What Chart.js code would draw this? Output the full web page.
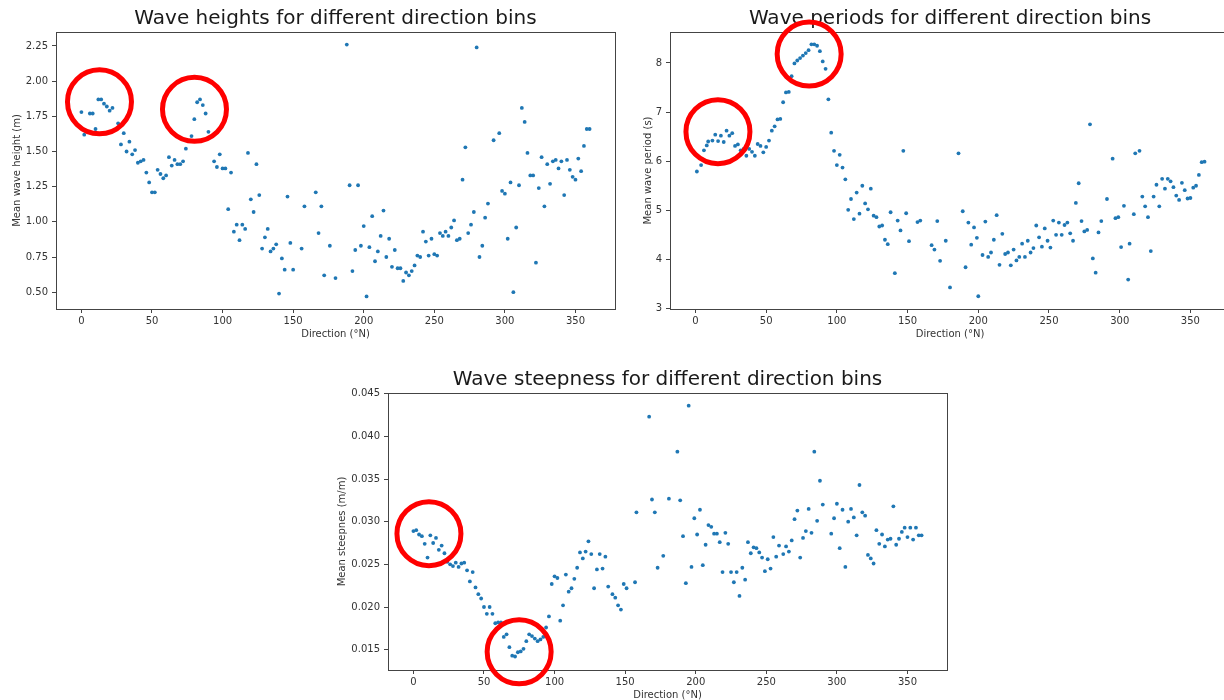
<!DOCTYPE html>
<html>
<head>
<meta charset="utf-8">
<script src="https://cdn.jsdelivr.net/npm/chart.js@4.4.1/dist/chart.umd.min.js"></script>
<style>
  html, body { margin: 0; padding: 0; background: #fff; overflow: hidden; width: 1224px; height: 700px; }
  canvas { position: absolute; }
</style>
</head>
<body>
<canvas id="heights" width="620" height="345" style="left:0px;top:0px"></canvas>
<canvas id="periods" width="620" height="345" style="left:620px;top:0px"></canvas>
<canvas id="steepness" width="625" height="345" style="left:330px;top:361px"></canvas>
<script>
// ---- Bin-averaged wave statistics per mean direction (°N) ----
const heightDir = [0,2,6,8,10,12,14,16,18,20,22,26,28,30,32,34,36,38,40,42,44,46,48,50,52,54,56,58,60,62,64,66,68,70,72,74,78,80,82,84,86,88,90,94,96,98,100,102,104,106,108,110,112,114,116,118,120,122,124,126,128,130,132,134,136,138,140,142,144,146,148,150,156,158,166,168,170,172,176,180,188,190,192,194,196,198,200,202,204,206,208,210,212,214,216,218,220,222,224,226,228,230,232,234,236,238,240,242,244,246,248,250,252,254,256,258,260,262,264,266,268,270,272,274,276,278,280,282,284,286,288,292,296,298,300,302,304,306,308,310,312,314,316,318,320,322,324,326,328,330,332,334,336,338,340,342,344,346,348,350,352,354,356,358,360];
const heightVal = [1.78,1.62,1.77,1.77,1.66,1.87,1.87,1.84,1.82,1.79,1.81,1.70,1.55,1.63,1.50,1.57,1.48,1.51,1.42,1.43,1.44,1.35,1.28,1.21,1.21,1.37,1.34,1.31,1.33,1.46,1.40,1.44,1.41,1.41,1.43,1.52,1.61,1.73,1.85,1.87,1.83,1.77,1.64,1.43,1.39,1.48,1.38,1.38,1.09,1.35,0.93,0.98,0.87,0.98,0.95,1.49,1.16,1.07,1.41,1.19,0.81,0.89,0.95,0.79,0.81,0.84,0.49,0.74,0.66,1.18,0.85,0.66,0.81,1.11,1.21,0.92,1.11,0.62,0.83,0.60,2.26,1.26,0.65,0.80,1.26,0.83,0.97,0.47,0.82,1.04,0.72,0.79,0.90,1.08,0.75,0.88,0.68,0.80,0.67,0.67,0.58,0.64,0.62,0.65,0.69,0.76,0.75,0.93,0.86,0.76,0.88,0.77,0.76,0.92,0.90,0.93,0.90,0.96,1.01,0.87,0.88,1.30,1.53,0.92,0.98,1.07,2.24,0.75,0.83,1.03,1.13,1.58,1.63,1.22,1.20,0.88,1.28,0.50,0.96,1.26,1.81,1.71,1.49,1.33,1.33,0.71,1.24,1.46,1.11,1.41,1.27,1.43,1.44,1.38,1.43,1.19,1.44,1.37,1.32,1.30,1.45,1.36,1.54,1.66,1.66];

const periodDir = [1,4,6,8,9,12,14,16,18,20,22,24,26,28,30,32,34,36,38,40,42,44,46,48,50,52,54,56,58,60,62,64,66,68,70,72,74,76,78,80,82,84,86,88,90,92,94,96,98,100,102,104,106,108,110,112,114,116,118,120,122,124,126,128,130,132,134,136,138,141,143,145,147,149,151,157,159,167,169,171,173,177,180,186,189,191,193,195,197,199,200,203,205,207,209,211,213,215,217,219,221,223,225,227,229,231,233,235,237,239,241,243,245,247,249,251,253,255,257,259,261,263,265,267,269,271,273,275,277,279,281,283,285,287,291,295,297,299,301,303,306,307,310,311,314,316,318,320,322,324,326,328,330,332,334,336,338,340,342,344,346,348,350,352,354,356,358,360];
const periodVal = [5.79,5.92,6.22,6.32,6.40,6.42,6.54,6.41,6.52,6.39,6.62,6.52,6.57,6.31,6.34,6.22,6.25,6.11,6.25,6.19,6.11,6.35,6.31,6.18,6.29,6.42,6.62,6.71,6.85,6.86,7.20,7.40,7.41,7.73,7.99,8.05,8.10,8.15,8.20,8.26,8.38,8.38,8.35,8.24,8.03,7.88,7.26,6.58,6.21,5.92,6.13,5.87,5.63,5.01,5.23,4.82,5.36,4.93,5.50,5.14,5.02,5.44,4.89,4.86,4.67,4.69,4.40,4.31,4.96,3.72,4.79,4.59,6.21,4.94,4.37,4.76,4.79,4.29,4.20,4.78,3.97,4.38,3.43,6.16,4.98,3.84,4.75,4.30,4.65,4.44,3.25,4.09,4.77,4.05,4.14,4.40,4.90,3.89,4.52,4.11,4.14,3.88,4.20,3.98,4.05,4.32,4.05,4.38,4.14,4.23,4.69,4.45,4.26,4.63,4.38,4.24,4.79,4.50,4.75,4.50,4.70,4.75,4.53,4.38,5.15,5.55,4.78,4.57,4.60,6.75,4.02,3.73,4.55,4.78,5.23,6.05,4.84,4.86,4.25,5.09,3.59,4.32,4.92,6.16,6.21,5.28,5.08,4.86,4.17,5.28,5.52,5.08,5.64,5.44,5.64,5.59,5.47,5.30,5.21,5.56,5.41,5.24,5.25,5.46,5.50,5.72,5.98,5.99];

const steepDir = [0,2,4,6,8,10,12,14,16,18,20,22,24,26,28,30,32,34,36,38,40,42,44,46,48,50,52,54,56,58,60,62,64,66,68,70,72,74,76,78,80,82,84,86,88,90,92,94,96,98,100,102,104,106,108,110,112,114,116,118,120,122,124,126,128,130,132,134,136,138,141,143,145,147,149,151,157,158,167,169,171,173,177,181,187,189,191,193,195,197,199,201,203,205,207,209,211,213,215,217,219,221,223,225,227,229,231,233,235,237,239,241,243,245,247,249,251,253,255,257,259,262,264,266,268,270,272,274,276,278,280,282,284,286,288,290,296,298,300,302,304,306,308,310,312,314,316,318,320,322,324,326,328,330,332,334,336,338,340,342,344,346,348,350,352,354,356,358,360];
const steepVal = [0.0289,0.0290,0.0285,0.0283,0.0274,0.0258,0.0284,0.0275,0.0281,0.0267,0.0272,0.0263,0.0253,0.0250,0.0248,0.0252,0.0247,0.0251,0.0252,0.0243,0.0230,0.0241,0.0223,0.0215,0.0210,0.0200,0.0192,0.0200,0.0192,0.0181,0.0182,0.0182,0.0165,0.0168,0.0153,0.0143,0.0142,0.0147,0.0148,0.0151,0.0160,0.0168,0.0166,0.0163,0.0160,0.0162,0.0165,0.0176,0.0189,0.0227,0.0236,0.0234,0.0184,0.0202,0.0238,0.0218,0.0222,0.0233,0.0246,0.0264,0.0257,0.0265,0.0277,0.0262,0.0222,0.0244,0.0262,0.0245,0.0259,0.0224,0.0215,0.0211,0.0202,0.0197,0.0227,0.0222,0.0229,0.0311,0.0423,0.0326,0.0311,0.0246,0.0260,0.0327,0.0382,0.0325,0.0283,0.0228,0.0436,0.0247,0.0304,0.0285,0.0314,0.0249,0.0273,0.0296,0.0294,0.0286,0.0286,0.0276,0.0241,0.0287,0.0274,0.0241,0.0229,0.0241,0.0213,0.0246,0.0232,0.0276,0.0263,0.0270,0.0269,0.0264,0.0258,0.0242,0.0256,0.0245,0.0282,0.0259,0.0272,0.0262,0.0271,0.0265,0.0278,0.0303,0.0313,0.0258,0.0281,0.0289,0.0315,0.0287,0.0382,0.0301,0.0348,0.0320,0.0286,0.0304,0.0321,0.0269,0.0314,0.0247,0.0300,0.0315,0.0305,0.0284,0.0343,0.0311,0.0307,0.0261,0.0257,0.0251,0.0290,0.0274,0.0285,0.0271,0.0279,0.0280,0.0318,0.0273,0.0280,0.0288,0.0293,0.0282,0.0293,0.0279,0.0293,0.0284,0.0284];

// Tick values
const dirTicks = [0, 50, 100, 150, 200, 250, 300, 350];
const heightTicks = [0.50, 0.75, 1.00, 1.25, 1.50, 1.75, 2.00, 2.25];
const periodTicks = [3, 4, 5, 6, 7, 8];
const steepTicks = [0.015, 0.020, 0.025, 0.030, 0.035, 0.040, 0.045];

// Highlighted direction sectors (centre in data units: direction, value)
const heightRings = [[12.8, 1.853], [80.1, 1.80]];
const periodRings = [[15.9, 6.60], [80.4, 8.18]];
const steepRings = [[11.0, 0.0286], [74.9, 0.01475]];

Chart.defaults.font.family = "'DejaVu Sans', sans-serif";
Chart.defaults.color = '#333';

const SPINE = '#444';
const DOT = '#1f77b4';

// Closes the axes box (top and right spines)
const frameBox = {
  id: 'frameBox',
  afterDatasetsDraw(chart) {
    const {ctx, chartArea: a} = chart;
    ctx.save();
    ctx.strokeStyle = SPINE;
    ctx.lineWidth = 1;
    ctx.strokeRect(Math.round(a.left) + 0.5, Math.round(a.top) + 0.5,
                   Math.round(a.right - a.left), Math.round(a.bottom - a.top));
    ctx.restore();
  }
};

// Panel title, centred over the axes box rather than the whole canvas
const axesTitle = {
  id: 'axesTitle',
  afterDraw(chart, args, opts) {
    const {ctx, chartArea: a} = chart;
    ctx.save();
    ctx.font = `normal ${opts.size}px 'DejaVu Sans', sans-serif`;
    ctx.fillStyle = opts.color;
    ctx.textAlign = 'center';
    ctx.textBaseline = 'middle';
    ctx.fillText(opts.text, (a.left + a.right) / 2, opts.y);
    ctx.restore();
  }
};

// Red rings drawn around selected sectors
const rings = {
  id: 'rings',
  afterDraw(chart, args, opts) {
    if (!opts.centres) return;
    const {ctx, scales: {x, y}} = chart;
    ctx.save();
    ctx.strokeStyle = opts.color;
    ctx.lineWidth = opts.width;
    opts.centres.forEach(([cx, cy]) => {
      ctx.beginPath();
      ctx.arc(x.getPixelForValue(cx), y.getPixelForValue(cy), opts.radius, 0, Math.PI * 2);
      ctx.stroke();
    });
    ctx.restore();
  }
};

function panel(id, o) {
  const points = o.dirs.map((d, i) => ({x: d, y: o.vals[i]}));
  return new Chart(document.getElementById(id), {
    type: 'scatter',
    data: { datasets: [{ data: points, backgroundColor: DOT, borderWidth: 0, pointRadius: 1.9, pointHoverRadius: 1.9 }] },
    plugins: [frameBox, axesTitle, rings],
    options: {
      responsive: false,
      animation: false,
      events: [],
      layout: { padding: { left: 0, right: o.padRight, top: 32, bottom: 5 } },
      plugins: {
        legend: { display: false },
        tooltip: { enabled: false },
        title: { display: false },
        axesTitle: { text: o.title, size: 20, color: '#1a1a1a', y: 19 },
        rings: { centres: o.rings, radius: 32, width: 5, color: '#f00' }
      },
      scales: {
        x: {
          type: 'linear', min: -18, max: 378,
          afterBuildTicks: s => { s.ticks = dirTicks.map(v => ({value: v})); },
          afterFit: s => { s.height = 31; },
          ticks: { font: { size: 10 }, padding: 2, maxRotation: 0, color: '#333' },
          grid: { display: true, drawOnChartArea: false, drawTicks: true, tickLength: 4, color: SPINE },
          border: { display: true, color: SPINE },
          title: { display: true, text: 'Direction (°N)', font: { size: 10 }, padding: { top: 0, bottom: 0 }, color: '#333' }
        },
        y: {
          type: 'linear', min: o.yMin, max: o.yMax,
          afterBuildTicks: s => { s.ticks = o.yTicks.map(v => ({value: v})); },
          afterFit: s => { s.width = o.yWidth; },
          ticks: { font: { size: 10 }, padding: 4, color: '#333', callback: v => Number(v).toFixed(o.decimals) },
          grid: { display: true, drawOnChartArea: false, drawTicks: true, tickLength: 4, color: SPINE },
          border: { display: true, color: SPINE },
          title: { display: true, text: o.yLabel, font: { size: 10 }, padding: { top: o.yTitlePad, bottom: 0 }, color: '#333' }
        }
      }
    }
  });
}

panel('heights', {
  title: 'Wave heights for different direction bins',
  yLabel: 'Mean wave height (m)',
  dirs: heightDir, vals: heightVal,
  yMin: 0.3805, yMax: 2.3495, yTicks: heightTicks, decimals: 2,
  yWidth: 56, yTitlePad: 11, padRight: 5, rings: heightRings
});

panel('periods', {
  title: 'Wave periods for different direction bins',
  yLabel: 'Mean wave period (s)',
  dirs: periodDir, vals: periodVal,
  yMin: 2.99, yMax: 8.63, yTicks: periodTicks, decimals: 0,
  yWidth: 50, yTitlePad: 22, padRight: 10, rings: periodRings
});

panel('steepness', {
  title: 'Wave steepness for different direction bins',
  yLabel: 'Mean steepnes (m/m)',
  dirs: steepDir, vals: steepVal,
  yMin: 0.01262, yMax: 0.04508, yTicks: steepTicks, decimals: 3,
  yWidth: 58, yTitlePad: 6.5, padRight: 8, rings: steepRings
});
</script>
</body>
</html>
